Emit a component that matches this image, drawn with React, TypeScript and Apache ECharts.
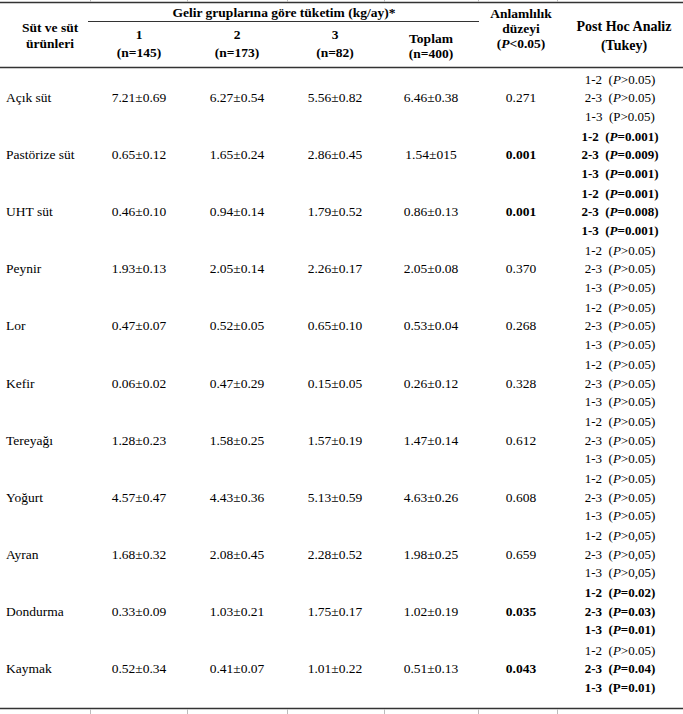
import React, { useEffect, useRef } from "react";
import * as echarts from "echarts";

const products = ["Açık süt", "Pastörize süt", "UHT süt", "Peynir", "Lor", "Kefir", "Tereyağı", "Yoğurt", "Ayran", "Dondurma", "Kaymak"];
const group1 = ["7.21±0.69", "0.65±0.12", "0.46±0.10", "1.93±0.13", "0.47±0.07", "0.06±0.02", "1.28±0.23", "4.57±0.47", "1.68±0.32", "0.33±0.09", "0.52±0.34"];
const group2 = ["6.27±0.54", "1.65±0.24", "0.94±0.14", "2.05±0.14", "0.52±0.05", "0.47±0.29", "1.58±0.25", "4.43±0.36", "2.08±0.45", "1.03±0.21", "0.41±0.07"];
const group3 = ["5.56±0.82", "2.86±0.45", "1.79±0.52", "2.26±0.17", "0.65±0.10", "0.15±0.05", "1.57±0.19", "5.13±0.59", "2.28±0.52", "1.75±0.17", "1.01±0.22"];
const total = ["6.46±0.38", "1.54±015", "0.86±0.13", "2.05±0.08", "0.53±0.04", "0.26±0.12", "1.47±0.14", "4.63±0.26", "1.98±0.25", "1.02±0.19", "0.51±0.13"];
const pValues = ["0.271", "0.001", "0.001", "0.370", "0.268", "0.328", "0.612", "0.608", "0.659", "0.035", "0.043"];
const pSignificant = [false, true, true, false, false, false, false, false, false, true, true];
const comparisons = ["1-2", "2-3", "1-3"];
const postHocValues = [
  [">0.05", ">0.05", ">0.05"],
  ["=0.001", "=0.009", "=0.001"],
  ["=0.001", "=0.008", "=0.001"],
  [">0.05", ">0.05", ">0.05"],
  [">0.05", ">0.05", ">0.05"],
  [">0.05", ">0.05", ">0.05"],
  [">0.05", ">0.05", ">0.05"],
  [">0.05", ">0.05", ">0.05"],
  [">0,05", ">0,05", ">0,05"],
  ["=0.02", "=0.03", "=0.01"],
  [">0.05", "=0.04", "=0.01"],
];
const postHocSig = [
  [false, false, false],
  [true, true, true],
  [true, true, true],
  [false, false, false],
  [false, false, false],
  [false, false, false],
  [false, false, false],
  [false, false, false],
  [false, false, false],
  [true, true, true],
  [false, true, true],
];
const postHocItalicP = [
  [true, true, false],
  [true, true, true],
  [true, true, true],
  [true, true, true],
  [true, true, true],
  [true, true, true],
  [true, true, true],
  [true, true, true],
  [true, true, true],
  [true, true, true],
  [true, true, false],
];
const groupHeaders = ["1", "2", "3"];
const groupNs = ["(n=145)", "(n=173)", "(n=82)"];

const FONT = "'Liberation Serif', 'Times New Roman', serif";
const FS = 13.5;
const FSP = 13;

export default function App() {
  const ref = useRef<HTMLDivElement>(null);
  useEffect(() => {
    if (!ref.current) return;
    const chart = echarts.init(ref.current, undefined, { renderer: "svg" });
    const els: any[] = [];
    const txt = (x: number, y: number, text: string, opts: any = {}) => {
      els.push({
        type: "text",
        x,
        y,
        silent: true,
        style: {
          text,
          fill: "#000",
          fontFamily: FONT,
          fontSize: opts.size || FS,
          fontWeight: opts.bold ? "bold" : "normal",
          fontStyle: opts.italic ? "italic" : "normal",
          textAlign: opts.align || "center",
          textVerticalAlign: "middle",
          align: opts.align || "center",
          verticalAlign: "middle",
          rich: opts.rich,
        },
      });
    };
    const hline = (x1: number, x2: number, y: number, w = 1.2, c = "#333") => {
      els.push({ type: "line", silent: true, shape: { x1, y1: y, x2, y2: y }, style: { stroke: c, lineWidth: w } });
    };
    const vline = (x: number, y1: number, y2: number) => {
      els.push({ type: "line", silent: true, shape: { x1: x, y1, x2: x, y2 }, style: { stroke: "#bbb", lineWidth: 1 } });
    };

    // rules
    hline(0, 683, 2.5, 1.5);
    hline(88, 479, 21.5, 1.2);
    hline(0, 683, 67.5, 1.5);
    hline(0, 683, 708.5, 1.5);
    [90, 187, 287, 384, 478, 557].forEach((x) => {
      vline(x + 0.5, 0, 2);
      vline(x + 0.5, 709, 714);
    });

    const colX = [139, 237, 335, 431];
    const sigX = 521;
    const phX = 620;
    // header
    txt(50, 27, "Süt ve süt", { bold: true });
    txt(50, 43, "ürünleri", { bold: true });
    txt(284, 12, "Gelir gruplarına göre tüketim (kg/ay)*", { bold: true });
    groupHeaders.forEach((h, i) => {
      txt(colX[i], 34, h, { bold: true });
      txt(colX[i], 52, groupNs[i], { bold: true });
    });
    txt(colX[3], 38, "Toplam", { bold: true });
    txt(colX[3], 53, "(n=400)", { bold: true });
    txt(sigX, 13, "Anlamlılık", { bold: true });
    txt(sigX, 28, "düzeyi", { bold: true });
    txt(sigX, 43, "{b|(}{bi|P}{b|<0.05)}", {
      bold: true,
      rich: {
        b: { fontFamily: FONT, fontSize: FS, fontWeight: "bold", fill: "#000" },
        bi: { fontFamily: FONT, fontSize: FS, fontWeight: "bold", fontStyle: "italic", fill: "#000" },
      },
    });
    txt(phX + 4, 26, "Post Hoc Analiz", { bold: true, size: 14 });
    txt(phX + 4, 45, "(Tukey)", { bold: true, size: 14 });

    const rich = {
      n: { fontFamily: FONT, fontSize: FSP, fill: "#000" },
      i: { fontFamily: FONT, fontSize: FSP, fontStyle: "italic", fill: "#000" },
      b: { fontFamily: FONT, fontSize: FSP, fontWeight: "bold", fill: "#000" },
      bi: { fontFamily: FONT, fontSize: FSP, fontWeight: "bold", fontStyle: "italic", fill: "#000" },
    };

    const rowStep = 57.1;
    products.forEach((p, r) => {
      const y = 97.5 + r * rowStep;
      txt(6, y, p, { align: "left" });
      txt(colX[0], y, group1[r]);
      txt(colX[1], y, group2[r]);
      txt(colX[2], y, group3[r]);
      txt(colX[3], y, total[r]);
      txt(sigX, y, pValues[r], { bold: pSignificant[r] });
      comparisons.forEach((c, k) => {
        const yy = y + (k - 1) * 18.5;
        const b = postHocSig[r][k];
        const base = b ? "b" : "n";
        const pst = postHocItalicP[r][k] ? (b ? "bi" : "i") : base;
        const t = `{${base}|${c}  (}{${pst}|P}{${base}|${postHocValues[r][k]})}`;
        txt(phX, yy, t, { rich });
      });
    });

    chart.setOption({ animation: false, graphic: { elements: els } });
    return () => chart.dispose();
  }, []);
  return <div ref={ref} style={{ position: "fixed", left: 0, top: 0, width: 683, height: 714, background: "#fff" }} />;
}
